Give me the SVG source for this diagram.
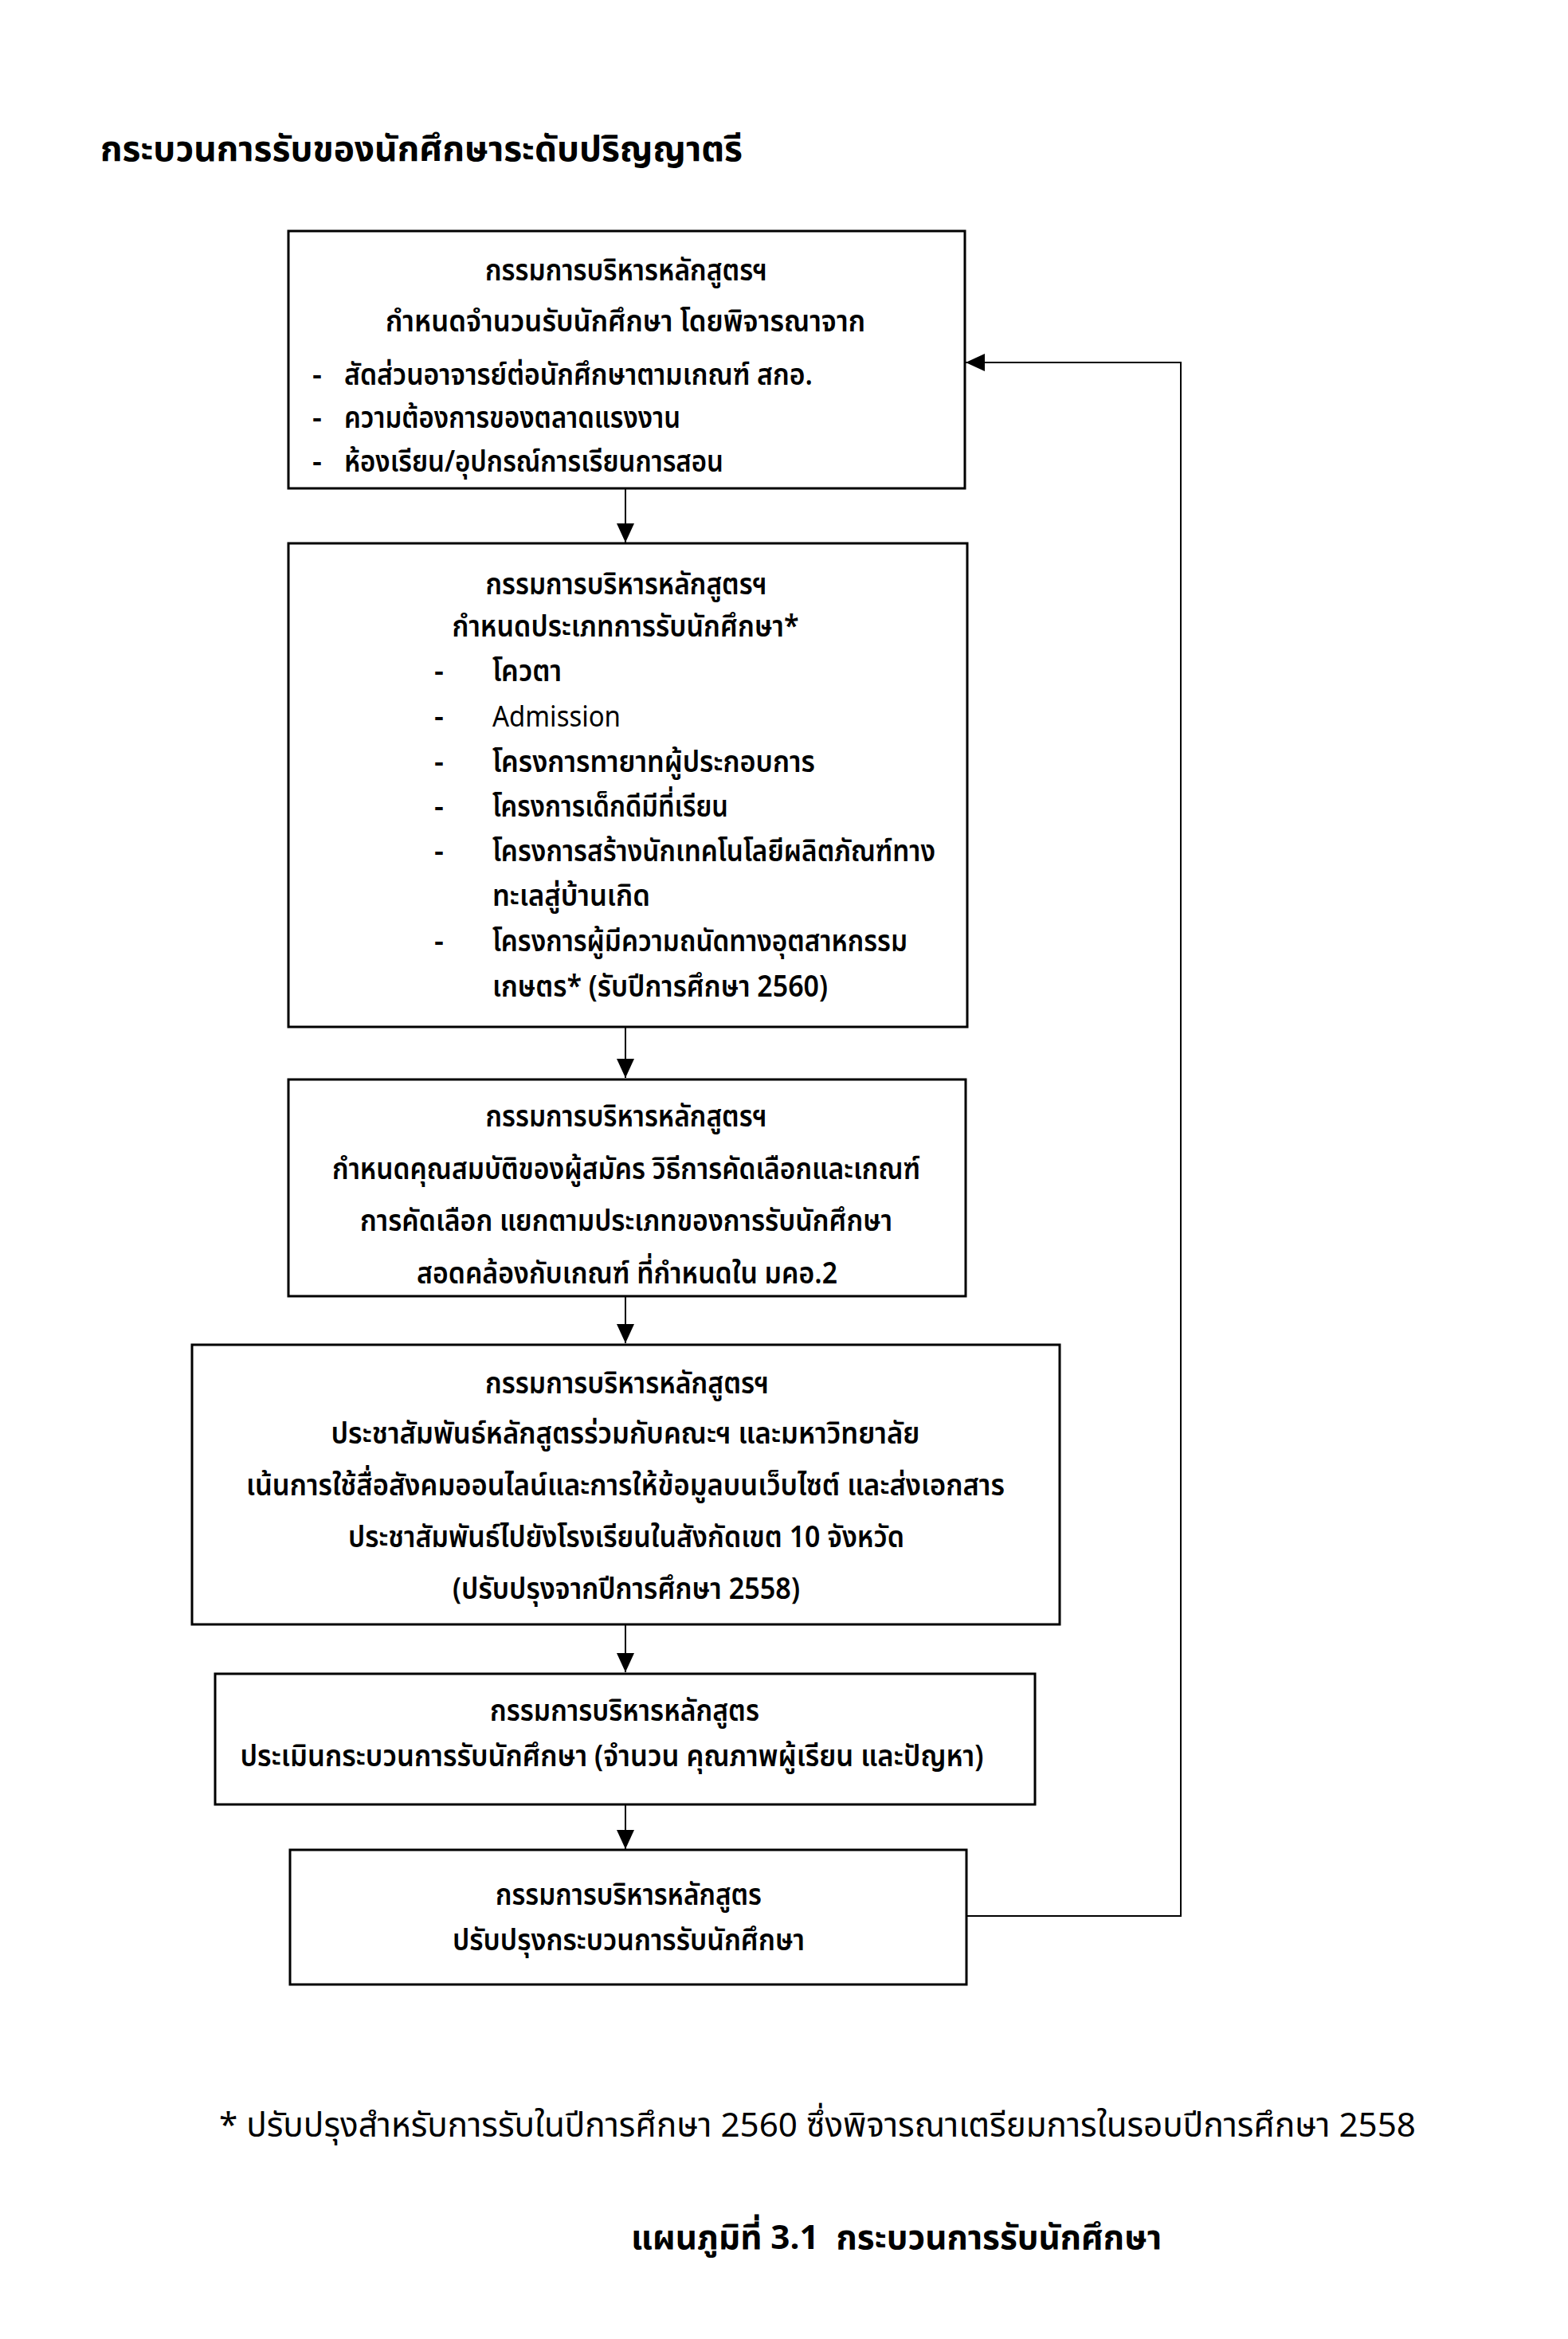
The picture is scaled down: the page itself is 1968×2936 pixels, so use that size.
<svg xmlns="http://www.w3.org/2000/svg" width="1968" height="2936" viewBox="0 0 1968 2936">
<style>
text{font-family:"Noto Sans Thai","Noto Sans","Liberation Sans",sans-serif;fill:#000}
.t{font-size:37px;font-weight:600}
.c{text-anchor:middle}
.title{font-size:44px;font-weight:bold}
.note{font-size:42px}
.cap{font-size:42px;font-weight:bold}
.box{fill:#fff;stroke:#000;stroke-width:3}
.con{fill:none;stroke:#000;stroke-width:2}
</style>
<defs>
<marker id="ah" viewBox="0 0 24 22" refX="24" refY="11" markerWidth="24" markerHeight="22" markerUnits="userSpaceOnUse" orient="auto">
<path d="M0 0L24 11L0 22Z" fill="#000"/>
</marker>
</defs>
<rect width="1968" height="2936" fill="#fff"/>
<text class="title" x="126" y="202" textLength="806" lengthAdjust="spacingAndGlyphs">กระบวนการรับของนักศึกษาระดับปริญญาตรี</text>

<g id="connectors">
<path class="con" d="M785 613V681" marker-end="url(#ah)"/>
<path class="con" d="M785 1289V1353" marker-end="url(#ah)"/>
<path class="con" d="M785 1627V1686" marker-end="url(#ah)"/>
<path class="con" d="M785 2039V2099" marker-end="url(#ah)"/>
<path class="con" d="M785 2264V2321" marker-end="url(#ah)"/>
<path class="con" d="M1213 2405H1482V455H1212" marker-end="url(#ah)"/>
</g>

<g id="node1">
<rect class="box" x="362" y="290" width="849" height="323"/>
<text class="t c" x="786" y="352" textLength="354" lengthAdjust="spacingAndGlyphs">กรรมการบริหารหลักสูตรฯ</text>
<text class="t c" x="785" y="416" textLength="602" lengthAdjust="spacingAndGlyphs">กำหนดจำนวนรับนักศึกษา โดยพิจารณาจาก</text>
<text class="t" x="392" y="483">-</text>
<text class="t" x="432" y="483" textLength="588" lengthAdjust="spacingAndGlyphs">สัดส่วนอาจารย์ต่อนักศึกษาตามเกณฑ์ สกอ.</text>
<text class="t" x="392" y="537">-</text>
<text class="t" x="432" y="537" textLength="422" lengthAdjust="spacingAndGlyphs">ความต้องการของตลาดแรงงาน</text>
<text class="t" x="392" y="592">-</text>
<text class="t" x="432" y="592" textLength="476" lengthAdjust="spacingAndGlyphs">ห้องเรียน/อุปกรณ์การเรียนการสอน</text>
</g>

<g id="node2">
<rect class="box" x="362" y="682" width="852" height="607"/>
<text class="t c" x="786" y="746" textLength="353" lengthAdjust="spacingAndGlyphs">กรรมการบริหารหลักสูตรฯ</text>
<text class="t c" x="785" y="799" textLength="435" lengthAdjust="spacingAndGlyphs">กำหนดประเภทการรับนักศึกษา*</text>
<text class="t" x="545" y="855">-</text>
<text class="t" x="618" y="855" textLength="87" lengthAdjust="spacingAndGlyphs">โควตา</text>
<text class="t" x="545" y="912">-</text>
<text class="t" x="618" y="912" textLength="161" lengthAdjust="spacingAndGlyphs" style="font-weight:normal">Admission</text>
<text class="t" x="545" y="969">-</text>
<text class="t" x="618" y="969" textLength="405" lengthAdjust="spacingAndGlyphs">โครงการทายาทผู้ประกอบการ</text>
<text class="t" x="545" y="1025">-</text>
<text class="t" x="618" y="1025" textLength="296" lengthAdjust="spacingAndGlyphs">โครงการเด็กดีมีที่เรียน</text>
<text class="t" x="545" y="1081">-</text>
<text class="t" x="618" y="1081" textLength="556" lengthAdjust="spacingAndGlyphs">โครงการสร้างนักเทคโนโลยีผลิตภัณฑ์ทาง</text>
<text class="t" x="618" y="1137" textLength="198" lengthAdjust="spacingAndGlyphs">ทะเลสู่บ้านเกิด</text>
<text class="t" x="545" y="1194">-</text>
<text class="t" x="618" y="1194" textLength="521" lengthAdjust="spacingAndGlyphs">โครงการผู้มีความถนัดทางอุตสาหกรรม</text>
<text class="t" x="618" y="1251" textLength="421" lengthAdjust="spacingAndGlyphs">เกษตร* (รับปีการศึกษา 2560)</text>
</g>

<g id="node3">
<rect class="box" x="362" y="1355" width="850" height="272"/>
<text class="t c" x="786" y="1414" textLength="353" lengthAdjust="spacingAndGlyphs">กรรมการบริหารหลักสูตรฯ</text>
<text class="t c" x="786" y="1480" textLength="738" lengthAdjust="spacingAndGlyphs">กำหนดคุณสมบัติของผู้สมัคร วิธีการคัดเลือกและเกณฑ์</text>
<text class="t c" x="786" y="1545" textLength="668" lengthAdjust="spacingAndGlyphs">การคัดเลือก แยกตามประเภทของการรับนักศึกษา</text>
<text class="t c" x="787" y="1611" textLength="528" lengthAdjust="spacingAndGlyphs">สอดคล้องกับเกณฑ์ ที่กำหนดใน มคอ.2</text>
</g>

<g id="node4">
<rect class="box" x="241" y="1688" width="1089" height="351"/>
<text class="t c" x="787" y="1749" textLength="356" lengthAdjust="spacingAndGlyphs">กรรมการบริหารหลักสูตรฯ</text>
<text class="t c" x="785" y="1812" textLength="739" lengthAdjust="spacingAndGlyphs">ประชาสัมพันธ์หลักสูตรร่วมกับคณะฯ และมหาวิทยาลัย</text>
<text class="t c" x="785" y="1877" textLength="952" lengthAdjust="spacingAndGlyphs">เน้นการใช้สื่อสังคมออนไลน์และการให้ข้อมูลบนเว็บไซต์ และส่งเอกสาร</text>
<text class="t c" x="786" y="1942" textLength="698" lengthAdjust="spacingAndGlyphs">ประชาสัมพันธ์ไปยังโรงเรียนในสังกัดเขต 10 จังหวัด</text>
<text class="t c" x="786" y="2007" textLength="436" lengthAdjust="spacingAndGlyphs">(ปรับปรุงจากปีการศึกษา 2558)</text>
</g>

<g id="node5">
<rect class="box" x="270" y="2101" width="1029" height="164"/>
<text class="t c" x="784" y="2160" textLength="338" lengthAdjust="spacingAndGlyphs">กรรมการบริหารหลักสูตร</text>
<text class="t c" x="768" y="2217" textLength="933" lengthAdjust="spacingAndGlyphs">ประเมินกระบวนการรับนักศึกษา (จำนวน คุณภาพผู้เรียน และปัญหา)</text>
</g>

<g id="node6">
<rect class="box" x="364" y="2322" width="849" height="169"/>
<text class="t c" x="789" y="2391" textLength="334" lengthAdjust="spacingAndGlyphs">กรรมการบริหารหลักสูตร</text>
<text class="t c" x="789" y="2448" textLength="442" lengthAdjust="spacingAndGlyphs">ปรับปรุงกระบวนการรับนักศึกษา</text>
</g>

<text class="note" x="275" y="2682" textLength="1502" lengthAdjust="spacingAndGlyphs">* ปรับปรุงสำหรับการรับในปีการศึกษา 2560 ซึ่งพิจารณาเตรียมการในรอบปีการศึกษา 2558</text>
<text class="cap" x="792" y="2823" textLength="666" lengthAdjust="spacingAndGlyphs" xml:space="preserve">แผนภูมิที่ 3.1  กระบวนการรับนักศึกษา</text>
</svg>
